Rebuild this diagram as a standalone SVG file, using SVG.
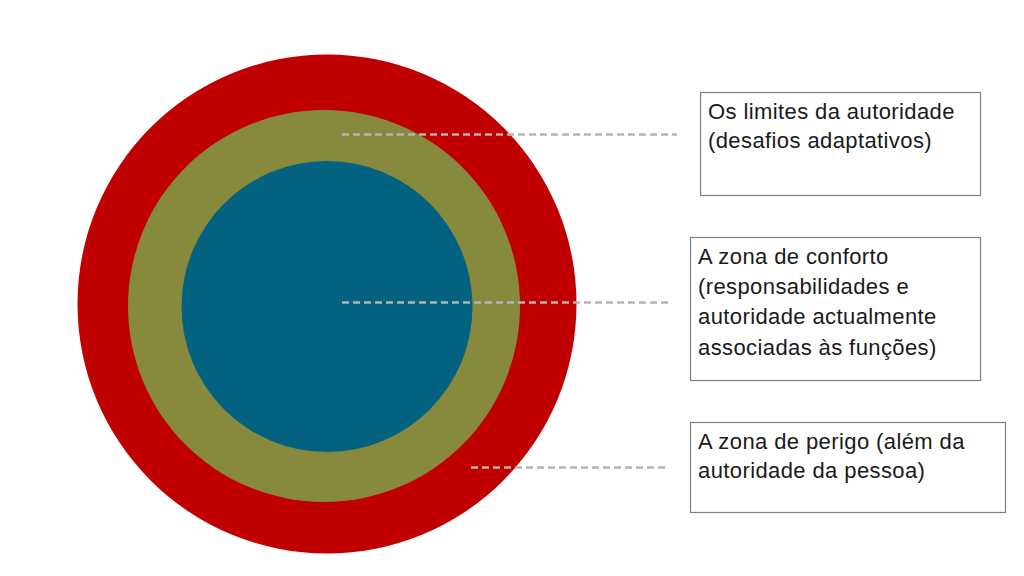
<svg xmlns="http://www.w3.org/2000/svg" width="1024" height="576" viewBox="0 0 1024 576">
  <style>
    .box { fill: #ffffff; stroke: #7f7f7f; stroke-width: 1.2; }
    .lbl { font-family: "Liberation Sans", Arial, sans-serif; font-size: 22px; fill: #1a1a1a; letter-spacing: 0.4px; }
    .lead { stroke: #b4b4b4; stroke-width: 2.5; stroke-dasharray: 7 4; fill: none; }
  </style>
  <rect width="1024" height="576" fill="#ffffff"/>
  <g id="ring-danger">
    <circle cx="327" cy="304" r="249.5" fill="#c00000"/>
  </g>
  <g id="ring-limits">
    <circle cx="324" cy="306" r="196" fill="#878a3c"/>
  </g>
  <g id="zone-comfort">
    <circle cx="327" cy="306.5" r="145.5" fill="#03627f"/>
  </g>
  <g id="connectors">
    <line class="lead" x1="342" y1="134.5" x2="677" y2="134.5"/>
    <line class="lead" x1="342" y1="302.5" x2="668" y2="302.5"/>
    <line class="lead" x1="471" y1="467.5" x2="667" y2="467.5"/>
  </g>
  <g id="label-limits">
    <rect class="box" x="700.5" y="92.5" width="280" height="103"/>
    <text class="lbl" x="708" y="119">Os limites da autoridade</text>
    <text class="lbl" x="708" y="148">(desafios adaptativos)</text>
  </g>
  <g id="label-comfort">
    <rect class="box" x="690.5" y="237.5" width="290" height="143"/>
    <text class="lbl" x="698" y="264">A zona de conforto</text>
    <text class="lbl" x="698" y="294">(responsabilidades e</text>
    <text class="lbl" x="698" y="324">autoridade actualmente</text>
    <text class="lbl" x="698" y="355">associadas às funções)</text>
  </g>
  <g id="label-danger">
    <rect class="box" x="690.5" y="422.5" width="315" height="90"/>
    <text class="lbl" x="698" y="449">A zona de perigo (além da</text>
    <text class="lbl" x="698" y="478">autoridade da pessoa)</text>
  </g>
</svg>
